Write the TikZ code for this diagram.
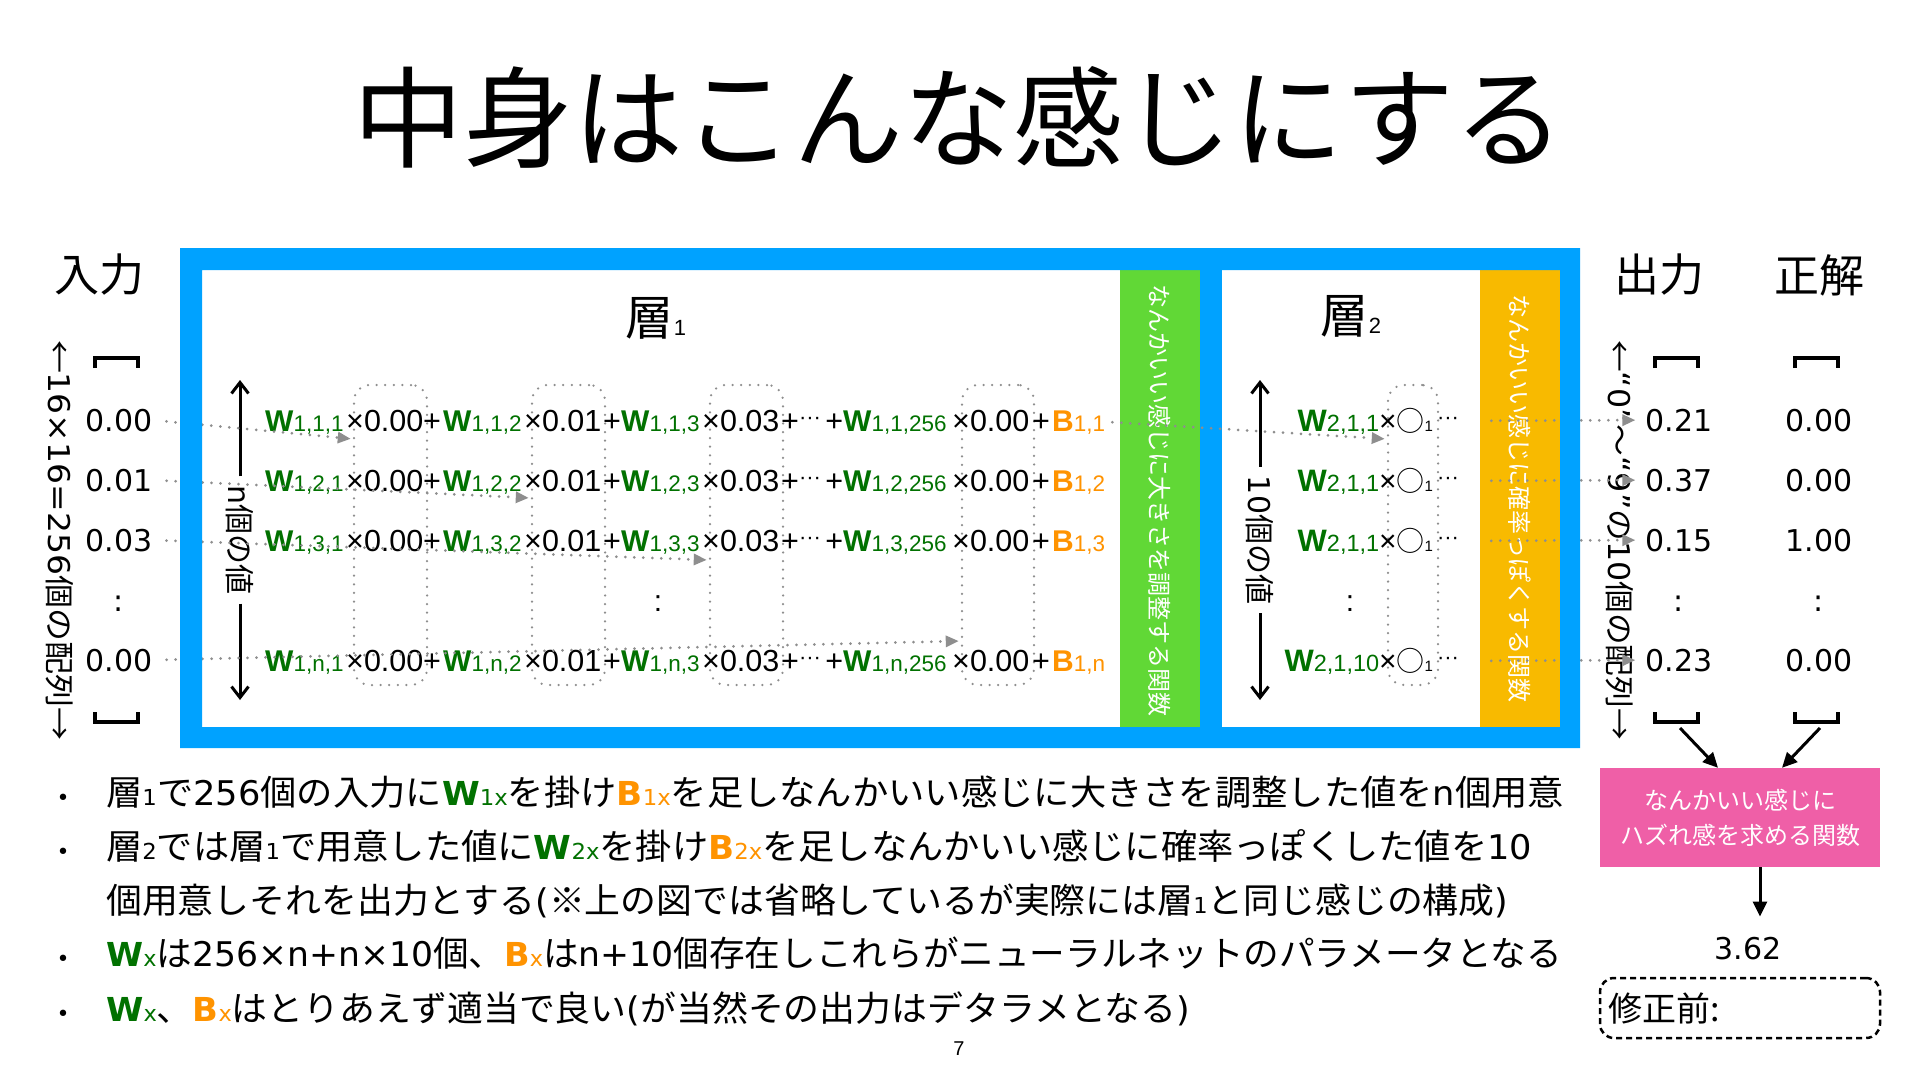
\documentclass[tikz,border=0pt]{standalone}
\usepackage{fontspec}
\usepackage{graphicx}
\setmainfont{Noto Sans CJK JP}
\newfontfamily\lat{Liberation Sans}
\newfontfamily\dv{DejaVu Sans}
\usetikzlibrary{arrows.meta}
\definecolor{kblue}{HTML}{00A2FF}
\definecolor{kgreen}{HTML}{61D836}
\definecolor{korange}{HTML}{F8BA00}
\definecolor{kpink}{HTML}{EF5FA7}
\definecolor{wgreen}{HTML}{017100}
\definecolor{borange}{HTML}{FF9300}
\definecolor{cgray}{HTML}{8E8E8E}
\newcommand\FS[1]{\fontsize{#1}{#1}\selectfont}
% equation pieces (layer 1)
\newcommand\EW[1]{\textcolor{wgreen}{{\lat\bfseries\FS{30}W}{\lat\FS{22.5}#1}}}
\newcommand\EB[1]{\textcolor{borange}{{\lat\bfseries\FS{30}B}{\lat\FS{22.5}#1}}}
\newcommand\Ex[1]{{\lat\FS{30.5}×#1}}
\newcommand\Ep{{\lat\FS{30.5}+}}
\newcommand\Edots{{\lat\FS{22}\raisebox{7pt}{···}}}
\newcommand\Erow[1]{%
\makebox[81pt][l]{\EW{1,#1,1}}\makebox[77pt][l]{\Ex{0.00}}\makebox[20pt][l]{\Ep}%
\makebox[81pt][l]{\EW{1,#1,2}}\makebox[79pt][l]{\Ex{0.01}}\makebox[18pt][l]{\Ep}%
\makebox[81pt][l]{\EW{1,#1,3}}\makebox[79pt][l]{\Ex{0.03}}%
\makebox[62pt][l]{\Ep\Edots\hfill\Ep}%
\makebox[109pt][l]{\EW{1,#1,256}}\makebox[80pt][l]{\Ex{0.00}}\makebox[20pt][l]{\Ep}\EB{1,#1}}
% layer 2 row
\newcommand\Lrow[1]{\llap{\textcolor{wgreen}{{\lat\bfseries\FS{31}W}{\lat\FS{23.5}#1}}}{\lat\FS{30}×}{\FS{28}○}{\lat\FS{15}1}\hspace{4pt}{\lat\FS{22}\raisebox{7pt}{···}}}
% bullet pieces
\newcommand\mL[1]{{\dv\FS{34}#1}}
\newcommand\mS[1]{{\dv\FS{22}#1}}
\newcommand\mW[1]{\textcolor{wgreen}{{\dv\bfseries\FS{33}W}\mS{#1}}}
\newcommand\mB[1]{\textcolor{borange}{{\dv\bfseries\FS{33}B}\mS{#1}}}
\newcommand\val[1]{{\dv\FS{30}#1}}
\begin{document}
\begin{tikzpicture}[x=1pt,y=-1pt,
  txt/.style={inner sep=0pt},
  conn/.style={draw=cgray, line width=3pt, dash pattern=on 0pt off 9pt, line cap=round, -{Triangle[length=13pt,width=11pt]}},
  dbox/.style={draw=cgray, line width=2.5pt, dash pattern=on 0pt off 8.6pt, line cap=round, rounded corners=16pt, minimum height=300pt, inner sep=0pt},
  varrow/.style={line width=3pt, -{Straight Barb[length=11pt,width=17pt]}},
  barrow/.style={line width=3pt, -{Triangle[length=15pt,width=14pt]}},
  brk/.style={line width=4pt, line join=miter},
]
\useasboundingbox (0,0) rectangle (1920,1080);
\fill[white] (0,0) rectangle (1920,1080);

% title
\node[txt] (title) at (959,117) {\FS{110}中身はこんな感じにする};

% headers
\node[txt] (hin) at (99,275) {\FS{45}入力};
\node[txt] (hout) at (1659,275) {\FS{45}出力};
\node[txt] (hans) at (1819,275) {\FS{45}正解};

% frame fills
\fill[kblue] (180,248) rectangle (1580,748);
\fill[white] (202,270) rectangle (1200,727);
\fill[white] (1222,270) rectangle (1560,727);
\fill[kgreen] (1120,270) rectangle (1200,727);
\fill[korange] (1480,270) rectangle (1560,727);
\node[txt, rotate=-90, text=white] (gtxt) at (1160,500) {\FS{24}なんかいい感じに大きさを調整する関数};
\node[txt, rotate=-90, text=white] (otxt) at (1520,498) {\FS{24}なんかいい感じに確率っぽくする関数};

% layer titles
\node[txt] (L1) at (656,318) {\FS{48}層{\lat\FS{22}1}};
\node[txt] (L2) at (1351,316) {\FS{48}層{\lat\FS{22}2}};

% dotted column boxes
\node[dbox, minimum width=73pt] (b1) at (390.5,535) {};
\node[dbox, minimum width=73pt] (b2) at (568.5,535) {};
\node[dbox, minimum width=73pt] (b3) at (746.5,535) {};
\node[dbox, minimum width=72pt] (b4) at (998,535) {};
\node[dbox, minimum width=50pt] (b5) at (1413,535) {};

% layer 1 rows
\node[txt, anchor=base west] (r1) at (265,431) {\Erow{1}};
\node[txt, anchor=base west] (r2) at (265,491) {\Erow{2}};
\node[txt, anchor=base west] (r3) at (265,551) {\Erow{3}};
\node[txt, anchor=base west] (rn) at (265,671) {\Erow{n}};
\node[txt, anchor=base] (rcol) at (658,611) {{\lat\FS{30}:}};

% layer 2 rows
\node[txt, anchor=base west] (l1) at (1379,431) {\Lrow{2,1,1}};
\node[txt, anchor=base west] (l2) at (1379,491) {\Lrow{2,1,1}};
\node[txt, anchor=base west] (l3) at (1379,551) {\Lrow{2,1,1}};
\node[txt, anchor=base west] (ln) at (1379,671) {\Lrow{2,1,10}};
\node[txt, anchor=base] (lcol) at (1350,611) {{\lat\FS{30}:}};

% vertical count labels
\node[txt, rotate=-90] (nlab) at (240,540) {\FS{30}{\dv n}個の値};
\coordinate (ntop) at (240,380);
\coordinate (nbot) at (240,700);
\draw[varrow, shorten <=9pt] (nlab.west) -- (ntop);
\draw[varrow, shorten <=9pt] (nlab.east) -- (nbot);
\node[txt, rotate=-90] (tlab) at (1260,540) {\FS{30}{\dv 10}個の値};
\coordinate (ttop) at (1260,380);
\coordinate (tbot) at (1260,700);
\draw[varrow, shorten <=9pt] (tlab.west) -- (ttop);
\draw[varrow, shorten <=9pt] (tlab.east) -- (tbot);

% input column
\node[txt, rotate=-90] (inlab) at (60,540) {\FS{30}\resizebox{400pt}{\height}{←{\dv\FS{30}16×16=256}個の配列→}};
\draw[brk] (95,368) -- (95,358) -- (138,358) -- (138,368);
\draw[brk] (95,712) -- (95,722) -- (138,722) -- (138,712);
\node[txt, anchor=base] (in1) at (119,431) {\val{0.00}};
\node[txt, anchor=base] (in2) at (119,491) {\val{0.01}};
\node[txt, anchor=base] (in3) at (119,551) {\val{0.03}};
\node[txt, anchor=base] (incol) at (119,611) {\val{:}};
\node[txt, anchor=base] (inn) at (119,671) {\val{0.00}};

% output column
\node[txt, rotate=-90] (outlab) at (1620,540) {\FS{30}\resizebox{400pt}{\height}{←{\dv\FS{30}“0”}〜{\dv\FS{30}“9”}の{\dv\FS{30}10}個の配列→}};
\draw[brk] (1655,368) -- (1655,358) -- (1698,358) -- (1698,368);
\draw[brk] (1655,712) -- (1655,722) -- (1698,722) -- (1698,712);
\node[txt, anchor=base] (o1) at (1679,431) {\val{0.21}};
\node[txt, anchor=base] (o2) at (1679,491) {\val{0.37}};
\node[txt, anchor=base] (o3) at (1679,551) {\val{0.15}};
\node[txt, anchor=base] (ocol) at (1679,611) {\val{:}};
\node[txt, anchor=base] (on) at (1679,671) {\val{0.23}};

% correct column
\draw[brk] (1795,368) -- (1795,358) -- (1838,358) -- (1838,368);
\draw[brk] (1795,712) -- (1795,722) -- (1838,722) -- (1838,712);
\node[txt, anchor=base] (c1) at (1819,431) {\val{0.00}};
\node[txt, anchor=base] (c2) at (1819,491) {\val{0.00}};
\node[txt, anchor=base] (c3) at (1819,551) {\val{1.00}};
\node[txt, anchor=base] (ccol) at (1819,611) {\val{:}};
\node[txt, anchor=base] (cn) at (1819,671) {\val{0.00}};

% dotted connectors
\draw[conn, shorten <=14pt, shorten >=2pt] (in1.east) -- ([yshift=96pt]b1.west);
\draw[conn, shorten <=14pt, shorten >=2pt] (in2.east) -- ([yshift=37pt]b2.west);
\draw[conn, shorten <=14pt, shorten >=2pt] (in3.east) -- ([yshift=-25pt]b3.west);
\draw[conn, shorten <=14pt, shorten >=2pt] (inn.east) -- ([yshift=-106pt]b4.west);
\draw[conn, shorten <=7pt, shorten >=2pt] (r1.east) -- ([yshift=96pt]b5.west);
\draw[conn, shorten <=32pt, shorten >=10pt] (l1.east) -- (o1.west);
\draw[conn, shorten <=32pt, shorten >=10pt] (l2.east) -- (o2.west);
\draw[conn, shorten <=32pt, shorten >=10pt] (l3.east) -- (o3.west);
\draw[conn, shorten <=32pt, shorten >=10pt] (ln.east) -- (on.west);

% outer blue ring on top of connectors
\fill[kblue, even odd rule] (180,248) rectangle (1580,748) (202,270) rectangle (1560,727);

% loss function
\node[fill=kpink, text=white, minimum width=280pt, minimum height=99pt, align=center, inner sep=0pt, font={\fontsize{24}{35}\selectfont}] (loss) at (1740,817.5) {なんかいい感じに\\ハズれ感を求める関数};
\coordinate (obot) at (1680,728);
\coordinate (cbot) at (1820,728);
\draw[barrow] (obot) -- ([xshift=-22pt]loss.north);
\draw[barrow] (cbot) -- ([xshift=42pt]loss.north);
\node[txt, anchor=base] (val) at (1748,959) {\val{3.62}};
\draw[barrow, shorten >=20pt] ([xshift=20pt]loss.south) -- ([xshift=12pt]val.north);
\node[draw, line width=2.5pt, dash pattern=on 6pt off 4pt, rounded corners=14pt, minimum width=280pt, minimum height=60pt, text width=264pt, align=left, inner sep=8pt, font=\FS{34}] (memo) at (1740,1008) {修正前:};

% bullets
\foreach \y/\n in {805/1,859/2,966/4,1021/5}{
  \node[txt, anchor=base] (dot\n) at (63,\y) {{\dv\FS{22}•}};
}
\node[txt, anchor=base west] (bl1) at (106,805) {\FS{35}\resizebox{1458pt}{\height}{層\mS{1}で\mL{256}個の入力に\mW{1x}を掛け\mB{1x}を足しなんかいい感じに大きさを調整した値を\mL{n}個用意}};
\node[txt, anchor=base west] (bl2) at (106,859) {\FS{35}\resizebox{1426pt}{\height}{層\mS{2}では層\mS{1}で用意した値に\mW{2x}を掛け\mB{2x}を足しなんかいい感じに確率っぽくした値を\mL{10}}};
\node[txt, anchor=base west] (bl3) at (106,913) {\FS{35}\resizebox{1402pt}{\height}{個用意しそれを出力とする\mL{(}※上の図では省略しているが実際には層\mS{1}と同じ感じの構成\mL{)}}};
\node[txt, anchor=base west] (bl4) at (106,966) {\FS{35}\resizebox{1456pt}{\height}{\mW{x}は\mL{256×n+n×10}個、\mB{x}は\mL{n+10}個存在しこれらがニューラルネットのパラメータとなる}};
\node[txt, anchor=base west] (bl5) at (106,1021) {\FS{35}\resizebox{1084pt}{\height}{\mW{x}、\mB{x}はとりあえず適当で良い\mL{(}が当然その出力はデタラメとなる\mL{)}}};

% page number
\node[txt] (pg) at (959,1049) {{\lat\FS{20}7}};
\end{tikzpicture}
\end{document}
